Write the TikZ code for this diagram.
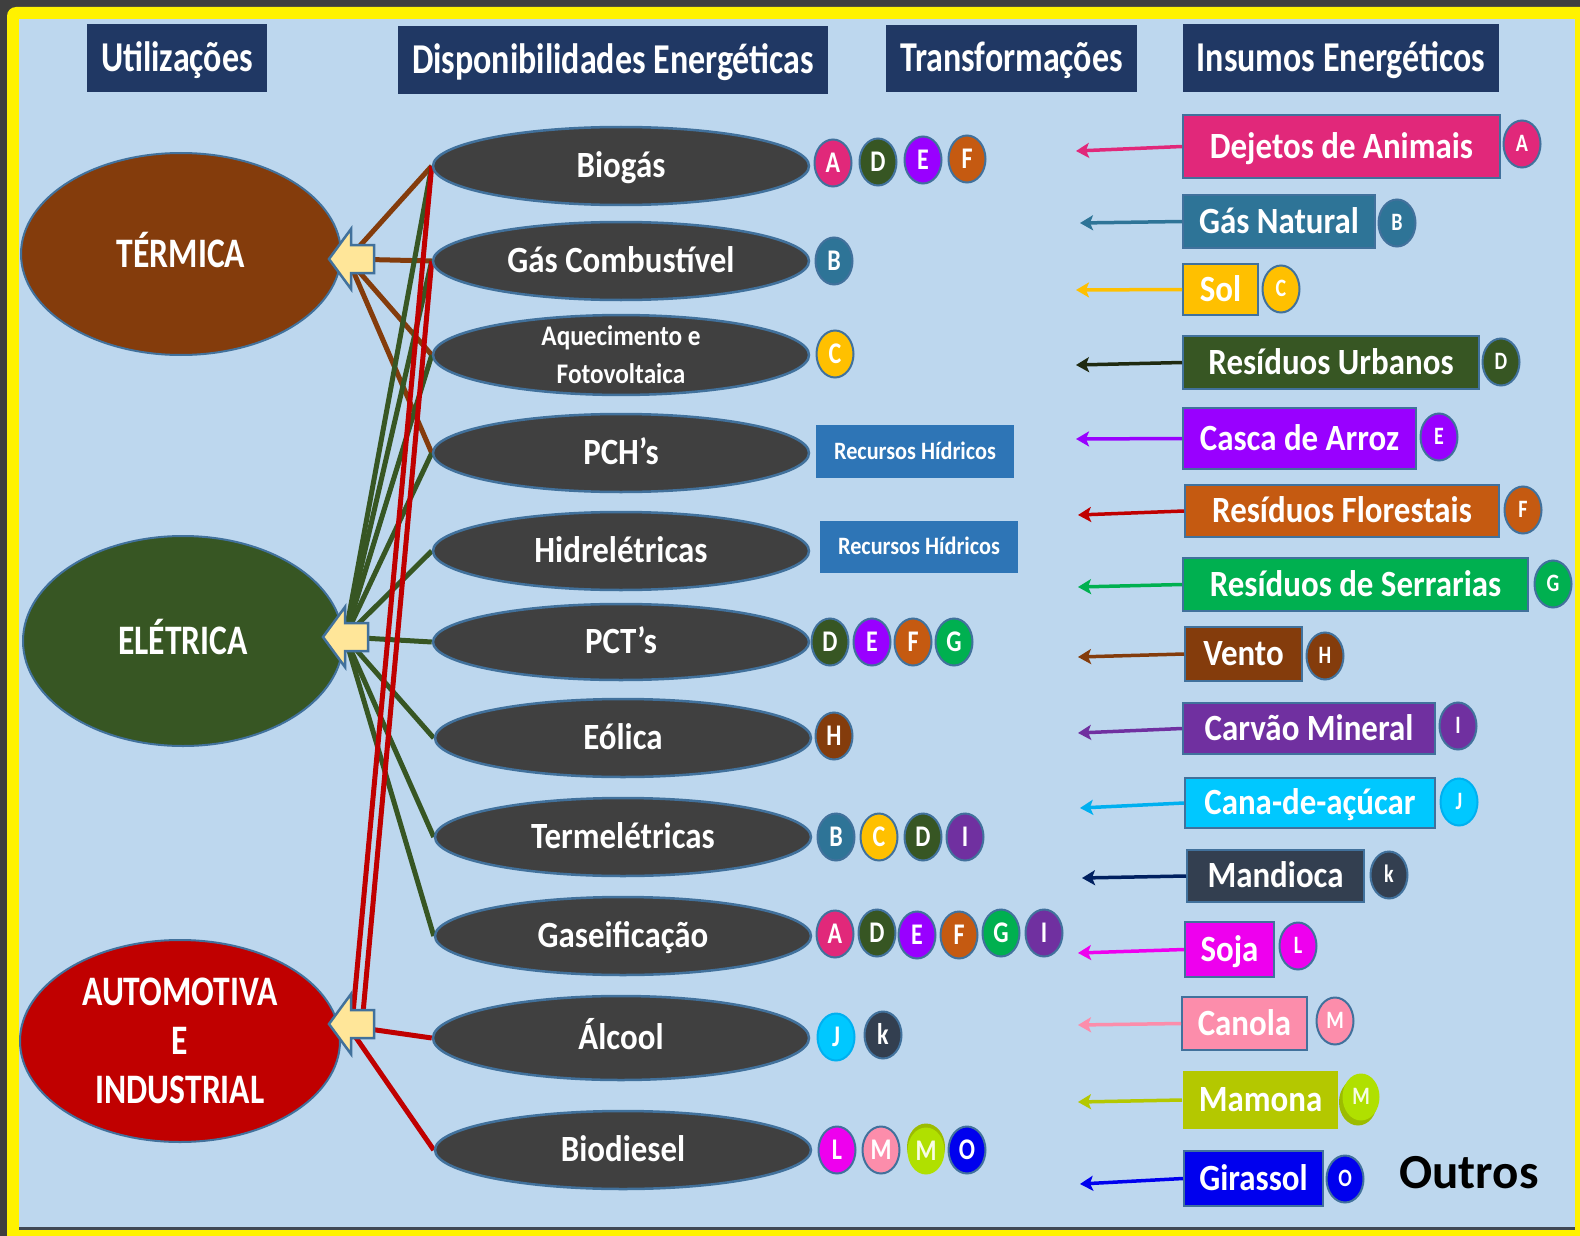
\documentclass[tikz,border=0pt]{standalone}
\usepackage{fontspec}
\setmainfont{Carlito}
\newfontfamily\bodyfont{Carlito}[FakeStretch=0.89]
\newfontfamily\narrowfont{Carlito}[FakeStretch=0.8]
\usetikzlibrary{shapes.geometric,arrows.meta}
\pgfdeclarelayer{back}
\pgfsetlayers{back,main}

\definecolor{frameGray}{HTML}{3F3F3F}
\definecolor{rimGray}{HTML}{404854}
\definecolor{panelBlue}{HTML}{BDD7EE}
\definecolor{hdrNavy}{HTML}{203864}
\definecolor{edgeBlue}{HTML}{41719C}
\definecolor{darkOval}{HTML}{404040}
\definecolor{termBrown}{HTML}{843C0C}
\definecolor{eleGreen}{HTML}{375623}
\definecolor{autoRed}{HTML}{C00000}
\definecolor{arrowCream}{HTML}{FFE699}
\definecolor{hydroBlue}{HTML}{2E75B6}
\definecolor{cA}{HTML}{E1287A}
\definecolor{cB}{HTML}{2E7497}
\definecolor{cC}{HTML}{FFC000}
\definecolor{cD}{HTML}{375623}
\definecolor{cE}{HTML}{9900FF}
\definecolor{cF}{HTML}{C55A11}
\definecolor{cG}{HTML}{00B050}
\definecolor{cH}{HTML}{843C0C}
\definecolor{cI}{HTML}{7030A0}
\definecolor{cJ}{HTML}{00C8FF}
\definecolor{cJline}{HTML}{00B0F0}
\definecolor{cK}{HTML}{333F50}
\definecolor{cL}{HTML}{EE00EE}
\definecolor{cM}{HTML}{FC8DAB}
\definecolor{cMM}{HTML}{B0E000}
\definecolor{cMMshade}{HTML}{9CBC00}
\definecolor{cMamona}{HTML}{B4C800}
\definecolor{cO}{HTML}{0000EE}
\definecolor{cNavy}{HTML}{002060}
\definecolor{cUrb}{HTML}{1F2A10}

\tikzset{
  header/.style={fill=hdrNavy, text=white, inner sep=0pt,
    font=\narrowfont\bfseries\fontsize{42.5}{50}\selectfont,
    text height=26.8pt, text depth=0pt},
  bigoval/.style={ellipse, draw=edgeBlue, line width=2pt, text=white,
    inner sep=0pt, minimum width=320pt, align=center,
    font=\narrowfont\bfseries\fontsize{42}{49}\selectfont},
  midoval/.style={ellipse, draw=edgeBlue, line width=2.5pt, fill=darkOval,
    text=white, inner sep=0pt, minimum width=376pt, minimum height=78pt,
    font=\bodyfont\bfseries\fontsize{37}{44}\selectfont,
    text height=23.4pt, text depth=0pt},
  lettertag/.style={ellipse, draw=edgeBlue, line width=2pt, fill=#1,
    text=white, inner sep=0pt, minimum width=37pt, minimum height=47pt,
    font=\narrowfont\bfseries\fontsize{30}{36}\selectfont,
    text height=19pt, text depth=0pt},
  smalltag/.style={lettertag=#1,
    font=\narrowfont\bfseries\fontsize{25}{30}\selectfont,
    text height=15.8pt},
  sourcebox/.style={draw=edgeBlue, line width=2pt, fill=#1, text=white,
    inner sep=0pt, font=\bodyfont\bfseries\fontsize{37}{44}\selectfont,
    text height=23.4pt, text depth=0pt},
  hydrobox/.style={fill=hydroBlue, text=white, inner sep=0pt,
    minimum width=198pt, minimum height=53pt,
    font=\bodyfont\bfseries\fontsize{25}{30}\selectfont,
    text height=15.8pt, text depth=0pt},
  feedline/.style={line width=5pt, draw=#1},
  supplyarrow/.style={line width=3.5pt, draw=#1,
    -{Stealth[length=13pt,width=15pt,inset=3pt]}},
  blockarrow/.pic={
    \draw[fill=arrowCream, draw=edgeBlue, line width=2.5pt, line join=miter]
      (0,0) -- (22,-30) -- (22,-14) -- (45,-14) -- (45,14) -- (22,14)
      -- (22,30) -- cycle;},
}

\begin{document}
\begin{tikzpicture}[x=1pt,y=-1pt]
\useasboundingbox (0,0) rectangle (1580,1236);

% frame and panel
\begin{pgfonlayer}{back}
  \begin{scope}
    \clip (0,0) rectangle (1580,1236);
    \fill[frameGray] (0,0) rectangle (1580,1236);
    \fill[yellow, rounded corners=9pt] (7,7) rectangle (1600,1256);
    \fill[rimGray] (19,1226) rectangle (1575,1230);
    \fill[panelBlue] (19,19) rectangle (1575,1227);
  \end{scope}
\end{pgfonlayer}

% column headers
\node[header, minimum width=180pt, minimum height=68pt] (hUtil) at (177,58) {Utilizações};
\node[header, minimum width=430pt, minimum height=68pt] (hDisp) at (613,60) {Disponibilidades Energéticas};
\node[header, minimum width=251pt, minimum height=67pt] (hTrans) at (1011.5,58.5) {Transformações};
\node[header, minimum width=316pt, minimum height=68pt] (hIns) at (1341,58) {Insumos Energéticos};

% uses
\node[bigoval, fill=termBrown, minimum height=202pt, text height=26.5pt, text depth=0pt] (termica) at (181,254) {TÉRMICA};
\node[bigoval, fill=eleGreen, minimum height=210pt, text height=26.5pt, text depth=0pt] (eletrica) at (183,641) {ELÉTRICA};
\node[bigoval, fill=autoRed, minimum height=202pt, text height=124.5pt, text depth=0pt] (auto) at (180,1041) {AUTOMOTIVA\\E\\INDUSTRIAL};

% hubs inside the block arrows
\coordinate (termHub) at (348,259);
\coordinate (eleHub) at (345,637);
\coordinate (autoHub) at (348,1026);
\coordinate (autoHubA) at (352,1024);
\coordinate (autoHubB) at (362,1024);

% energy availabilities
\node[midoval] (biogas) at (621,166) {Biogás};
\node[midoval] (gascomb) at (621,261) {Gás Combustível};
\node[midoval, font=\bodyfont\bfseries\fontsize{28.4}{38}\selectfont, align=center,
      text height=56.5pt, text depth=0pt] (aquec) at (621,355) {Aquecimento e\\Fotovoltaica};
\node[midoval] (pch) at (621,453) {PCH’s};
\node[midoval] (hidro) at (621,551) {Hidrelétricas};
\node[midoval, minimum height=76pt] (pct) at (621,642) {PCT’s};
\node[midoval] (eolica) at (623,738) {Eólica};
\node[midoval] (termel) at (623,837) {Termelétricas};
\node[midoval] (gaseif) at (623,936) {Gaseificação};
\node[midoval, minimum height=84pt] (alcool) at (621,1038) {Álcool};
\node[midoval] (biodiesel) at (623,1150) {Biodiesel};

% connectors from uses to availabilities
\begin{pgfonlayer}{back}
  \foreach \t in {biogas,gascomb,aquec,pch}
    \draw[feedline=termBrown] (termHub) -- (\t.west);
  \foreach \t in {biogas,gascomb,aquec,pch,hidro,pct,eolica,termel,gaseif}
    \draw[feedline=eleGreen] (eleHub) -- (\t.west);
  \draw[feedline=autoRed] (autoHubA) -- (biogas.west);
  \draw[feedline=autoRed] (autoHubB) -- (gascomb.west);
  \draw[feedline=autoRed] (autoHub) -- (alcool.west);
  \draw[feedline=autoRed] (autoHub) -- (biodiesel.west);
\end{pgfonlayer}

% block arrows pointing at the uses
\pic at (329,259) {blockarrow};
\pic at (323,637) {blockarrow};
\pic at (329,1024) {blockarrow};

% input tags for each availability
\node[lettertag=cA] (bioA) at (833,163) {A};
\node[lettertag=cD] (bioD) at (878,162) {D};
\node[lettertag=cE] (bioE) at (923,160) {E};
\node[lettertag=cF] (bioF) at (967,159) {F};

\node[lettertag=cB] (gcB) at (834,261) {B};
\node[lettertag=cC] (aqC) at (835,354) {C};

\node[hydrobox] (hydroA) at (915,451.5) {Recursos Hídricos};
\node[hydrobox, minimum height=52pt] (hydroB) at (919,547) {Recursos Hídricos};

\node[lettertag=cD] (pctD) at (830,642) {D};
\node[lettertag=cE] (pctE) at (872,642) {E};
\node[lettertag=cF] (pctF) at (913,642) {F};
\node[lettertag=cG] (pctG) at (954,642) {G};

\node[lettertag=cH] (eolH) at (834,736) {H};

\node[lettertag=cB] (terB) at (836,837) {B};
\node[lettertag=cC] (terC) at (879,837) {C};
\node[lettertag=cD] (terD) at (923,837) {D};
\node[lettertag=cI] (terI) at (965,837) {I};

\node[lettertag=cA] (gasA) at (835,934) {A};
\node[lettertag=cD] (gasD) at (877,933) {D};
\node[lettertag=cE] (gasE) at (917,935) {E};
\node[lettertag=cF] (gasF) at (959,935) {F};
\node[lettertag=cG] (gasG) at (1001,933) {G};
\node[lettertag=cI] (gasI) at (1044,933) {I};

\node[lettertag=cJ, draw=cJline] (alcJ) at (836,1037) {J};
\node[lettertag=cK] (alcK) at (883,1035) {k};

\node[lettertag=cL] (bdL) at (837,1150) {L};
\node[lettertag=cM] (bdM) at (881,1150) {M};
\fill[cMMshade] (926,1147) ellipse [x radius=19pt, y radius=23.5pt];
\node[lettertag=cMM, draw=none, text=white!90!cMM] (bdMM) at (926,1151) {M};
\node[lettertag=cO] (bdO) at (967,1150) {O};

% energy inputs
\node[sourcebox=cA, minimum width=317pt, minimum height=63pt] (dejetos) at (1341.5,146.5) {Dejetos de Animais};
\node[sourcebox=cB, minimum width=192pt, minimum height=53pt] (gasnat) at (1279,221.5) {Gás Natural};
\node[sourcebox=cC, minimum width=75pt, minimum height=51pt] (sol) at (1220.5,289.5) {Sol};
\node[sourcebox=cD, minimum width=296pt, minimum height=53pt] (urbanos) at (1331,362.5) {Resíduos Urbanos};
\node[sourcebox=cE, minimum width=233pt, minimum height=61pt] (arroz) at (1299.5,438.5) {Casca de Arroz};
\node[sourcebox=cF, minimum width=314pt, minimum height=52pt] (florestais) at (1342,511) {Resíduos Florestais};
\node[sourcebox=cG, minimum width=345pt, minimum height=53pt] (serrarias) at (1355.5,584.5) {Resíduos de Serrarias};
\node[sourcebox=cH, minimum width=117pt, minimum height=54pt] (vento) at (1243.5,654) {Vento};
\node[sourcebox=cI, minimum width=252pt, minimum height=51pt] (carvao) at (1309,728.5) {Carvão Mineral};
\node[sourcebox=cJ, minimum width=250pt, minimum height=50pt] (cana) at (1310,803) {Cana-de-açúcar};
\node[sourcebox=cK, minimum width=177pt, minimum height=52pt] (mandioca) at (1275.5,876) {Mandioca};
\node[sourcebox=cL, minimum width=89pt, minimum height=55pt] (soja) at (1229.5,949.5) {Soja};
\node[sourcebox=cM, minimum width=125pt, minimum height=53pt] (canola) at (1244.5,1023.5) {Canola};
\node[sourcebox=cMamona, draw=none, minimum width=155pt, minimum height=58pt] (mamona) at (1260.5,1100) {Mamona};
\node[sourcebox=cO, minimum width=139pt, minimum height=55pt] (girassol) at (1253.5,1178.5) {Girassol};

% letter keys of the inputs
\node[smalltag=cA] (keyA) at (1522,144) {A};
\node[smalltag=cB] (keyB) at (1397,223) {B};
\node[smalltag=cC] (keyC) at (1281,289) {C};
\node[smalltag=cD] (keyD) at (1501,362) {D};
\node[smalltag=cE] (keyE) at (1439,437) {E};
\node[smalltag=cF] (keyF) at (1523,510) {F};
\node[smalltag=cG] (keyG) at (1553,584) {G};
\node[smalltag=cH] (keyH) at (1325,656) {H};
\node[smalltag=cI] (keyI) at (1458,726) {I};
\node[smalltag=cJ, draw=cJline] (keyJ) at (1459,802) {J};
\node[smalltag=cK] (keyK) at (1389,875) {k};
\node[smalltag=cL] (keyL) at (1298,946) {L};
\node[smalltag=cM] (keyM) at (1335,1021) {M};
\fill[cMMshade] (1358,1102) ellipse [x radius=19pt, y radius=23.5pt];
\node[smalltag=cMM, draw=none, text=white!90!cMM] (keyMM) at (1361,1097) {M};
\node[smalltag=cO] (keyO) at (1345,1179) {O};

\node[font=\bfseries\fontsize{49}{58}\selectfont, text=black, inner sep=0pt,
      text height=31pt, text depth=0pt] (outros) at (1469,1172.5) {Outros};

% arrow ends of the inputs
\coordinate (tipA) at (1076,151);
\coordinate (tipB) at (1080,223);
\coordinate (tipC) at (1076,290);
\coordinate (tipD) at (1076,365);
\coordinate (tipE) at (1076,439);
\coordinate (tipF) at (1078,515);
\coordinate (tipG) at (1078,587);
\coordinate (tipH) at (1078,657);
\coordinate (tipI) at (1078,733);
\coordinate (tipJ) at (1080,808);
\coordinate (tipK) at (1082,878);
\coordinate (tipL) at (1078,953);
\coordinate (tipM) at (1078,1025);
\coordinate (tipMM) at (1078,1102);
\coordinate (tipO) at (1080,1184);

\draw[supplyarrow=cA] (dejetos.west) -- (tipA);
\draw[supplyarrow=cB] (gasnat.west) -- (tipB);
\draw[supplyarrow=cC] (sol.west) -- (tipC);
\draw[supplyarrow=cUrb] (urbanos.west) -- (tipD);
\draw[supplyarrow=cE] (arroz.west) -- (tipE);
\draw[supplyarrow=autoRed] (florestais.west) -- (tipF);
\draw[supplyarrow=cG] (serrarias.west) -- (tipG);
\draw[supplyarrow=cH] (vento.west) -- (tipH);
\draw[supplyarrow=cI] (carvao.west) -- (tipI);
\draw[supplyarrow=cJline] (cana.west) -- (tipJ);
\draw[supplyarrow=cNavy] (mandioca.west) -- (tipK);
\draw[supplyarrow=cL] (soja.west) -- (tipL);
\draw[supplyarrow=cM] (canola.west) -- (tipM);
\draw[supplyarrow=cMamona] (mamona.west) -- (tipMM);
\draw[supplyarrow=cO] (girassol.west) -- (tipO);
\end{tikzpicture}
\end{document}
